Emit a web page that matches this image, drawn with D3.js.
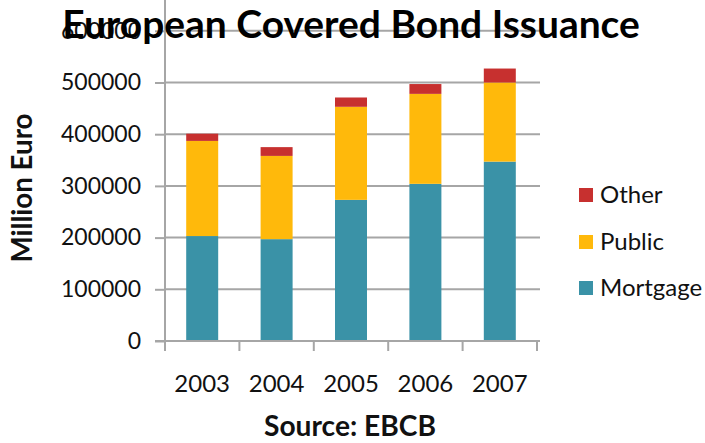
<!DOCTYPE html>
<html><head><meta charset="utf-8">
<script src="https://cdn.jsdelivr.net/npm/d3@7"></script>
<style>body{margin:0;background:#fff}svg{display:block}text{font-family:Lato,"Open Sans",sans-serif}</style>
</head><body>
<svg id="c" width="705" height="443"></svg>
<script>
const years = ["2003","2004","2005","2006","2007"];
const mortgage = [203000,197000,273000,304000,347000];
const publicS = [184000,161000,180000,174000,153000];
const other = [14000,17000,18000,19000,27000];
const seriesNames = ["Mortgage","Public","Other"];
const colors = ["#3a92a7","#ffb90b","#c7302f"];
const yTicks = [0,100000,200000,300000,400000,500000,600000];

const svg = d3.select("#c");
const x = d3.scaleBand().domain(years).range([165,537]).paddingInner(0.57).paddingOuter(0.285);
const y = d3.scaleLinear().domain([0,600000]).range([341,30.8]);

function fit(sel, target){
  const n = sel.node(); const fs = +sel.attr("font-size");
  const w = n.getComputedTextLength();
  if (w>0) sel.attr("font-size", fs*target/w);
  return sel;
}

const rows = years.map((yr,i)=>({year:yr, Mortgage:mortgage[i], Public:publicS[i], Other:other[i]}));
const stack = d3.stack().keys(seriesNames)(rows);

// gridlines
svg.append("g").selectAll("line").data(yTicks.slice(1)).join("line")
  .attr("x1",165).attr("x2",540).attr("y1",d=>y(d)).attr("y2",d=>y(d))
  .attr("stroke","#a6a6a6").attr("stroke-width",2);

// y axis
const ya = svg.append("g").attr("transform","translate(165,0)")
  .call(d3.axisLeft(y).tickValues(yTicks).tickSize(10).tickPadding(14).tickFormat(d3.format("d")));
ya.select(".domain").attr("stroke","#a6a6a6").attr("stroke-width",2).attr("d","M0,0V341");
ya.selectAll(".tick line").attr("stroke","#a6a6a6").attr("stroke-width",2);
ya.selectAll("text").attr("font-size",23).attr("fill","#111").attr("font-family","Lato");

// bars
svg.append("g").selectAll("g").data(stack).join("g")
  .attr("fill",(d,i)=>colors[i])
  .selectAll("rect").data(d=>d).join("rect")
  .attr("x",d=>x(d.data.year)).attr("width",x.bandwidth())
  .attr("y",d=>y(d[1])).attr("height",d=>y(d[0])-y(d[1]));

// x axis
const xa = svg.append("g").attr("transform","translate(0,341)");
xa.append("line").attr("x1",155).attr("x2",540).attr("stroke","#a6a6a6").attr("stroke-width",2);
const bounds = years.map(yv=>x(yv)-x.step()*x.paddingInner()/2).concat([537]);
bounds[0]=165;
xa.selectAll(".tk").data(bounds).join("line").attr("class","tk")
  .attr("x1",d=>d).attr("x2",d=>d).attr("y1",0).attr("y2",10)
  .attr("stroke","#a6a6a6").attr("stroke-width",2);
xa.selectAll(".lb").data(years).join("text").attr("class","lb")
  .attr("x",d=>x(d)+x.bandwidth()/2).attr("y",51).attr("text-anchor","middle")
  .attr("font-size",24).attr("fill","#111").text(d=>d);

// title
fit(svg.append("text").attr("x",351).attr("y",38).attr("text-anchor","middle")
  .attr("font-family","'DejaVu Sans'").attr("font-size",30).attr("font-weight","bold").attr("fill","#000")
  .text("European Covered Bond Issuance"), 578);

// y label
fit(svg.append("text").attr("transform","translate(32,188) rotate(-90)")
  .attr("text-anchor","middle").attr("font-family","'DejaVu Sans'").attr("font-size",20).attr("font-weight","bold").attr("fill","#111")
  .text("Million Euro"), 149);

// source
fit(svg.append("text").attr("x",350).attr("y",436).attr("text-anchor","middle")
  .attr("font-family","'DejaVu Sans'").attr("font-size",20).attr("font-weight","bold").attr("fill","#111")
  .text("Source: EBCB"), 172);

// legend
const leg = ["Other","Public","Mortgage"];
const legY = [195,242,288];
const lg = svg.append("g").selectAll("g").data(leg).join("g")
  .attr("transform",(d,i)=>`translate(579,${legY[i]})`);
lg.append("rect").attr("x",0).attr("y",-7).attr("width",14).attr("height",14)
  .attr("fill",d=>colors[seriesNames.indexOf(d)]);
lg.append("text").attr("x",21).attr("y",8).attr("font-size",24).attr("fill","#111").text(d=>d);
</script>
</body></html>
